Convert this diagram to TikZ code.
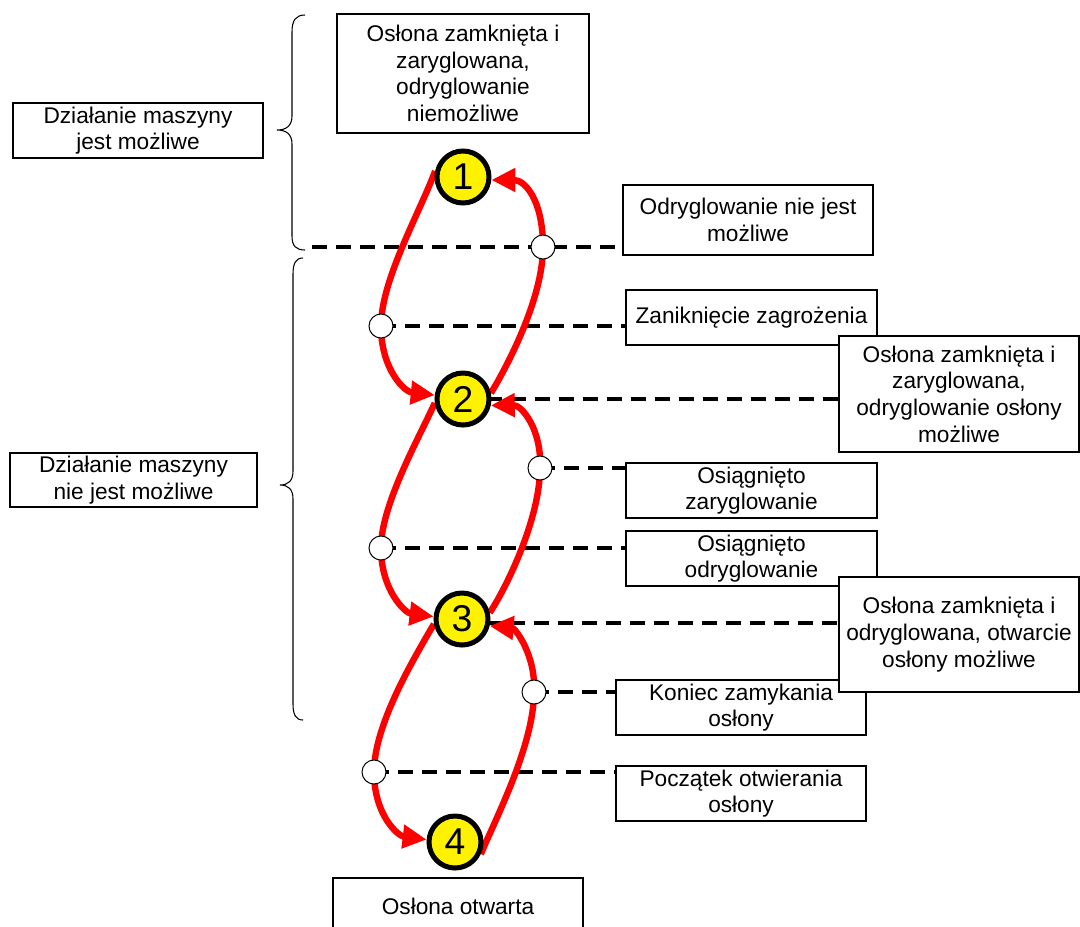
\documentclass[tikz,border=0pt]{standalone}
\usepackage{fontspec}
\setmainfont{Liberation Sans}
\usetikzlibrary{arrows.meta,calc}
\pgfdeclarelayer{bg}
\pgfdeclarelayer{mid}
\pgfsetlayers{bg,mid,main}
\begin{document}
\begin{tikzpicture}[x=0.75pt,y=-0.75pt,
  every node/.style={font=\fontsize{17}{20}\selectfont},
  box/.style={draw,fill=white,line width=1pt,align=center,inner sep=0pt},
  stn/.style={circle,draw,line width=3.75pt,fill=yellow,minimum size=39pt,inner sep=0pt,font=\fontsize{28}{30}\selectfont},
  wp/.style={circle,draw,line width=0.75pt,fill=white,minimum size=18pt,inner sep=0pt},
  dl/.style={line width=3pt,dash pattern=on 11pt off 7pt},
  rl/.style={red,line width=4.8pt,-{Triangle[length=18pt,width=17pt]}},
  br/.style={line width=0.8pt}]
\useasboundingbox (0,0) rectangle (1080,926);

% boxes
\node[box,minimum width=189pt,minimum height=89.25pt] (top) at (463,73.5) {Osłona zamknięta i\\zaryglowana,\\odryglowanie\\niemożliwe};
\node[box,minimum width=187.5pt,minimum height=41.25pt] (lA) at (138,130.5) {Działanie maszyny\\jest możliwe};
\node[box,minimum width=185.25pt,minimum height=40.5pt] (lB) at (133.5,480) {Działanie maszyny\\nie jest możliwe};
\node[box,minimum width=187.5pt,minimum height=52.5pt] (odr) at (748,220) {Odryglowanie nie jest\\możliwe};
\node[box,minimum width=188.25pt,minimum height=41.25pt] (zan) at (751.5,317.5) {Zaniknięcie zagrożenia};
\node[box,minimum width=180pt,minimum height=87pt] (ozz) at (959,394) {Osłona zamknięta i\\zaryglowana,\\odryglowanie osłony\\możliwe};
\node[box,minimum width=188.25pt,minimum height=41.25pt] (osz) at (751.5,490.5) {Osiągnięto\\zaryglowanie};
\node[box,minimum width=188.25pt,minimum height=41.25pt] (oso) at (751.5,558.5) {Osiągnięto\\odryglowanie};
\node[box,minimum width=187.5pt,minimum height=41.25pt] (kon) at (741,707.5) {Koniec zamykania\\osłony};
\node[box,minimum width=180pt,minimum height=86.25pt] (ozo) at (959,634.5) {Osłona zamknięta i\\odryglowana, otwarcie\\osłony możliwe};
\node[box,minimum width=187.5pt,minimum height=41.25pt] (pocz) at (741,793.5) {Początek otwierania\\osłony};
\node[box,minimum width=187.5pt,minimum height=42pt] (otw) at (458,906) {Osłona otwarta};

% state circles
\node[stn] (n1) at (463,177) {1};
\node[stn] (n2) at (463,399) {2};
\node[stn] (n3) at (462,619) {3};
\node[stn] (n4) at (455,842) {4};

% event points
\node[wp] (w1) at (543,247) {};
\node[wp] (w2) at (381,326) {};
\node[wp] (w3) at (540,468) {};
\node[wp] (w4) at (381,548) {};
\node[wp] (w5) at (534,692) {};
\node[wp] (w6) at (374,772) {};

% braces
\draw[br] (305,15) .. controls (296,15) and (292,20) .. (292,32) -- (292,116) .. controls (292,126) and (286,130) .. (277,130) .. controls (286,130) and (292,134) .. (292,144) -- (292,236) .. controls (292,246) and (296,250) .. (305,250);
\draw[br] (303,258) .. controls (296,258) and (293,263) .. (293,274) -- (293,471) .. controls (293,481) and (288,485) .. (280,485) .. controls (288,485) and (293,489) .. (293,499) -- (293,704) .. controls (293,715) and (296,720) .. (303,720);
\coordinate (bA) at (312,247);

% dashed lines
\begin{pgfonlayer}{bg}
\draw[dl] (bA) -- (w1.center) -- (w1 -| odr.west);
\draw[dl] (w2.center) -- (w2 -| zan.west);
\draw[dl] (n2.center) -- (n2 -| ozz.west);
\draw[dl] (w3.center) -- (w3 -| osz.west);
\draw[dl] (w4.center) -- (w4 -| oso.west);
\draw[dl] (n3.center) ++(0,4) coordinate (n3d) -- (n3d -| ozo.west);
\draw[dl] (w5.center) -- (w5 -| kon.west);
\draw[dl] (w6.center) -- (w6 -| pocz.west);
\end{pgfonlayer}

% red transitions
\begin{pgfonlayer}{mid}
\draw[rl] (n1.168) .. controls (420,212) and (381,280) .. (w2.center) .. controls (381,370) and (405,392) .. (n2.172);
\draw[rl] (n2.12) .. controls (505,370) and (543,300) .. (w1.center) .. controls (543,200) and (525,180) .. (n1.-6);
\draw[rl] (n2.188) .. controls (418,440) and (381,505) .. (w4.center) .. controls (381,590) and (405,613) .. (n3.175);
\draw[rl] (n3.13) .. controls (505,590) and (540,520) .. (w3.center) .. controls (542,430) and (522,405) .. (n2.-13);
\draw[rl] (n3.190) .. controls (413,660) and (374,725) .. (w6.center) .. controls (374,815) and (398,836) .. (n4.175);
\draw[rl] (n4.-25) .. controls (495,820) and (534,745) .. (w5.center) .. controls (536,655) and (515,628) .. (n3.-14);
\end{pgfonlayer}
\end{tikzpicture}
\end{document}
